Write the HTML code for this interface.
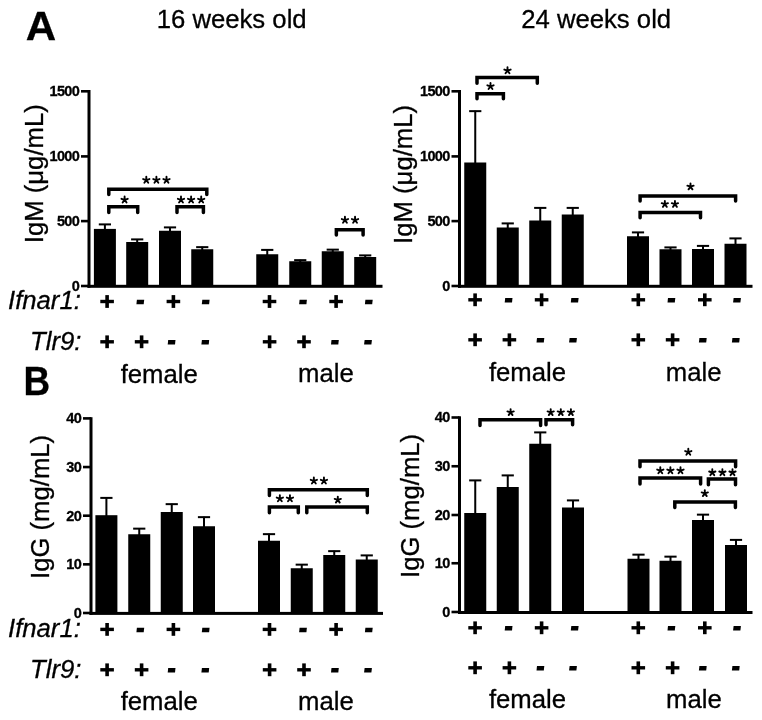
<!DOCTYPE html><html><head><meta charset="utf-8"><style>html,body{margin:0;padding:0;background:#fff;}svg{display:block;will-change:transform;font-family:"Liberation Sans",sans-serif;}svg rect,svg polygon{fill:#000;} svg path,svg line{stroke:#000;} svg text{fill:#000;stroke:#000;stroke-width:0.3px;}</style></head><body>
<svg width="762" height="720" viewBox="0 0 762 720">
<rect x="0" y="0" width="762" height="720" style="fill:#fff"/>
<text x="0" y="0" font-size="40.9" font-weight="bold" transform="translate(25.7 39.5) scale(1.03 1)">A</text>
<text x="0" y="0" font-size="41.5" font-weight="bold" transform="translate(23.6 394.8) scale(0.89 1)">B</text>
<text x="156.7" y="28.4" font-size="25.7" text-anchor="start" font-weight="normal" font-style="normal" >16 weeks old</text>
<text x="521.2" y="28.4" font-size="25.7" text-anchor="start" font-weight="normal" font-style="normal" >24 weeks old</text>
<rect x="87.5" y="90" width="3" height="197.7"/>
<rect x="87.5" y="284.8" width="295" height="3"/>
<rect x="81" y="90" width="8" height="2.6"/>
<text x="79.3" y="96.2" font-size="14.5" text-anchor="end" font-weight="bold" font-style="normal" letter-spacing="-0.6" stroke="#000" stroke-width="0.35">1500</text>
<rect x="81" y="155.1" width="8" height="2.6"/>
<text x="79.3" y="161.3" font-size="14.5" text-anchor="end" font-weight="bold" font-style="normal" letter-spacing="-0.6" stroke="#000" stroke-width="0.35">1000</text>
<rect x="81" y="219.8" width="8" height="2.6"/>
<text x="79.3" y="226" font-size="14.5" text-anchor="end" font-weight="bold" font-style="normal" letter-spacing="-0.6" stroke="#000" stroke-width="0.35">500</text>
<rect x="81" y="284.7" width="8" height="2.6"/>
<text x="79.3" y="290.9" font-size="14.5" text-anchor="end" font-weight="bold" font-style="normal" letter-spacing="-0.6" stroke="#000" stroke-width="0.35">0</text>
<rect x="93.9" y="228.9" width="22" height="57.4"/>
<rect x="103.9" y="224" width="2" height="5.9"/>
<rect x="98.8" y="223.4" width="12.2" height="2"/>
<rect x="126.2" y="242" width="22" height="44.3"/>
<rect x="136.2" y="239" width="2" height="4"/>
<rect x="131.1" y="238.4" width="12.2" height="2"/>
<rect x="159" y="230.75" width="22" height="55.55"/>
<rect x="169" y="227" width="2" height="4.75"/>
<rect x="163.9" y="226.4" width="12.2" height="2"/>
<rect x="191.25" y="249.25" width="22" height="37.05"/>
<rect x="201.25" y="246.75" width="2" height="3.5"/>
<rect x="196.15" y="246.15" width="12.2" height="2"/>
<rect x="256.25" y="254.25" width="22" height="32.05"/>
<rect x="266.25" y="249.5" width="2" height="5.75"/>
<rect x="261.15" y="248.9" width="12.2" height="2"/>
<rect x="289.25" y="261.25" width="22" height="25.05"/>
<rect x="299.25" y="259.75" width="2" height="2.5"/>
<rect x="294.15" y="259.15" width="12.2" height="2"/>
<rect x="321.75" y="251.25" width="22" height="35.05"/>
<rect x="331.75" y="249.25" width="2" height="3"/>
<rect x="326.65" y="248.65" width="12.2" height="2"/>
<rect x="354.2" y="257" width="22" height="29.3"/>
<rect x="364.2" y="255" width="2" height="3"/>
<rect x="359.1" y="254.4" width="12.2" height="2"/>
<path d="M108.8 194.6 V189.3 H206.8 V194.6" fill="none" stroke-width="3.5" stroke-linecap="round" stroke-linejoin="miter"/>
<path d="M146.3 180.1L146.3 176.8M146.3 180.1L149.44 179.08M146.3 180.1L148.24 182.77M146.3 180.1L144.36 182.77M146.3 180.1L143.16 179.08" fill="none" stroke-width="1.9" stroke-linecap="round"/>
<path d="M156.4 180.1L156.4 176.8M156.4 180.1L159.54 179.08M156.4 180.1L158.34 182.77M156.4 180.1L154.46 182.77M156.4 180.1L153.26 179.08" fill="none" stroke-width="1.9" stroke-linecap="round"/>
<path d="M166.5 180.1L166.5 176.8M166.5 180.1L169.64 179.08M166.5 180.1L168.44 182.77M166.5 180.1L164.56 182.77M166.5 180.1L163.36 179.08" fill="none" stroke-width="1.9" stroke-linecap="round"/>
<path d="M108.8 212.4 V206.75 H137.7 V212.4" fill="none" stroke-width="3.5" stroke-linecap="round" stroke-linejoin="miter"/>
<path d="M124.6 199.8L124.6 196.5M124.6 199.8L127.74 198.78M124.6 199.8L126.54 202.47M124.6 199.8L122.66 202.47M124.6 199.8L121.46 198.78" fill="none" stroke-width="1.9" stroke-linecap="round"/>
<path d="M177 212.4 V206.75 H203.4 V212.4" fill="none" stroke-width="3.5" stroke-linecap="round" stroke-linejoin="miter"/>
<path d="M181 199.8L181 196.5M181 199.8L184.14 198.78M181 199.8L182.94 202.47M181 199.8L179.06 202.47M181 199.8L177.86 198.78" fill="none" stroke-width="1.9" stroke-linecap="round"/>
<path d="M191.1 199.8L191.1 196.5M191.1 199.8L194.24 198.78M191.1 199.8L193.04 202.47M191.1 199.8L189.16 202.47M191.1 199.8L187.96 198.78" fill="none" stroke-width="1.9" stroke-linecap="round"/>
<path d="M201.2 199.8L201.2 196.5M201.2 199.8L204.34 198.78M201.2 199.8L203.14 202.47M201.2 199.8L199.26 202.47M201.2 199.8L198.06 198.78" fill="none" stroke-width="1.9" stroke-linecap="round"/>
<path d="M336.35 235 V229.75 H363.1 V235" fill="none" stroke-width="3.5" stroke-linecap="round" stroke-linejoin="miter"/>
<path d="M344.95 220.1L344.95 216.8M344.95 220.1L348.09 219.08M344.95 220.1L346.89 222.77M344.95 220.1L343.01 222.77M344.95 220.1L341.81 219.08" fill="none" stroke-width="1.9" stroke-linecap="round"/>
<path d="M355.05 220.1L355.05 216.8M355.05 220.1L358.19 219.08M355.05 220.1L356.99 222.77M355.05 220.1L353.11 222.77M355.05 220.1L351.91 219.08" fill="none" stroke-width="1.9" stroke-linecap="round"/>
<rect x="458" y="90" width="3" height="197.7"/>
<rect x="458" y="284.8" width="294.5" height="3"/>
<rect x="451.5" y="90" width="8" height="2.6"/>
<text x="449.8" y="96.2" font-size="14.5" text-anchor="end" font-weight="bold" font-style="normal" letter-spacing="-0.6" stroke="#000" stroke-width="0.35">1500</text>
<rect x="451.5" y="155.1" width="8" height="2.6"/>
<text x="449.8" y="161.3" font-size="14.5" text-anchor="end" font-weight="bold" font-style="normal" letter-spacing="-0.6" stroke="#000" stroke-width="0.35">1000</text>
<rect x="451.5" y="219.8" width="8" height="2.6"/>
<text x="449.8" y="226" font-size="14.5" text-anchor="end" font-weight="bold" font-style="normal" letter-spacing="-0.6" stroke="#000" stroke-width="0.35">500</text>
<rect x="451.5" y="284.7" width="8" height="2.6"/>
<text x="449.8" y="290.9" font-size="14.5" text-anchor="end" font-weight="bold" font-style="normal" letter-spacing="-0.6" stroke="#000" stroke-width="0.35">0</text>
<rect x="464.25" y="162.5" width="22" height="123.8"/>
<rect x="474.25" y="110.75" width="2" height="52.75"/>
<rect x="469.15" y="110.15" width="12.2" height="2"/>
<rect x="496.75" y="227.5" width="22" height="58.8"/>
<rect x="506.75" y="223" width="2" height="5.5"/>
<rect x="501.65" y="222.4" width="12.2" height="2"/>
<rect x="529.25" y="220.5" width="22" height="65.8"/>
<rect x="539.25" y="207.5" width="2" height="14"/>
<rect x="534.15" y="206.9" width="12.2" height="2"/>
<rect x="561.75" y="214.5" width="22" height="71.8"/>
<rect x="571.75" y="207.5" width="2" height="8"/>
<rect x="566.65" y="206.9" width="12.2" height="2"/>
<rect x="627" y="236.25" width="22" height="50.05"/>
<rect x="637" y="232" width="2" height="5.25"/>
<rect x="631.9" y="231.4" width="12.2" height="2"/>
<rect x="659.5" y="249.25" width="22" height="37.05"/>
<rect x="669.5" y="247" width="2" height="3.25"/>
<rect x="664.4" y="246.4" width="12.2" height="2"/>
<rect x="692" y="249" width="22" height="37.3"/>
<rect x="702" y="245.5" width="2" height="4.5"/>
<rect x="696.9" y="244.9" width="12.2" height="2"/>
<rect x="724.5" y="243.75" width="22" height="42.55"/>
<rect x="734.5" y="238" width="2" height="6.75"/>
<rect x="729.4" y="237.4" width="12.2" height="2"/>
<path d="M477 83.25 V77.5 H537.3 V83.25" fill="none" stroke-width="3.5" stroke-linecap="round" stroke-linejoin="miter"/>
<path d="M507.5 70.6L507.5 67.3M507.5 70.6L510.64 69.58M507.5 70.6L509.44 73.27M507.5 70.6L505.56 73.27M507.5 70.6L504.36 69.58" fill="none" stroke-width="1.9" stroke-linecap="round"/>
<path d="M477 98.75 V93.75 H503.4 V98.75" fill="none" stroke-width="3.5" stroke-linecap="round" stroke-linejoin="miter"/>
<path d="M490.5 86.35L490.5 83.05M490.5 86.35L493.64 85.33M490.5 86.35L492.44 89.02M490.5 86.35L488.56 89.02M490.5 86.35L487.36 85.33" fill="none" stroke-width="1.9" stroke-linecap="round"/>
<path d="M640.1 201.1 V196 H735.6 V201.1" fill="none" stroke-width="3.5" stroke-linecap="round" stroke-linejoin="miter"/>
<path d="M690.5 186.7L690.5 183.4M690.5 186.7L693.64 185.68M690.5 186.7L692.44 189.37M690.5 186.7L688.56 189.37M690.5 186.7L687.36 185.68" fill="none" stroke-width="1.9" stroke-linecap="round"/>
<path d="M640.1 217.7 V212.5 H700.5 V217.7" fill="none" stroke-width="3.5" stroke-linecap="round" stroke-linejoin="miter"/>
<path d="M664.85 204.2L664.85 200.9M664.85 204.2L667.99 203.18M664.85 204.2L666.79 206.87M664.85 204.2L662.91 206.87M664.85 204.2L661.71 203.18" fill="none" stroke-width="1.9" stroke-linecap="round"/>
<path d="M674.95 204.2L674.95 200.9M674.95 204.2L678.09 203.18M674.95 204.2L676.89 206.87M674.95 204.2L673.01 206.87M674.95 204.2L671.81 203.18" fill="none" stroke-width="1.9" stroke-linecap="round"/>
<rect x="89.5" y="417.2" width="3" height="197.6"/>
<rect x="89.5" y="611.9" width="293.5" height="3"/>
<rect x="83" y="417.1" width="8" height="2.6"/>
<text x="81.3" y="423.3" font-size="14.5" text-anchor="end" font-weight="bold" font-style="normal" letter-spacing="-0.6" stroke="#000" stroke-width="0.35">40</text>
<rect x="83" y="465.75" width="8" height="2.6"/>
<text x="81.3" y="471.95" font-size="14.5" text-anchor="end" font-weight="bold" font-style="normal" letter-spacing="-0.6" stroke="#000" stroke-width="0.35">30</text>
<rect x="83" y="514.4" width="8" height="2.6"/>
<text x="81.3" y="520.6" font-size="14.5" text-anchor="end" font-weight="bold" font-style="normal" letter-spacing="-0.6" stroke="#000" stroke-width="0.35">20</text>
<rect x="83" y="563.05" width="8" height="2.6"/>
<text x="81.3" y="569.25" font-size="14.5" text-anchor="end" font-weight="bold" font-style="normal" letter-spacing="-0.6" stroke="#000" stroke-width="0.35">10</text>
<rect x="83" y="611.7" width="8" height="2.6"/>
<text x="81.3" y="617.9" font-size="14.5" text-anchor="end" font-weight="bold" font-style="normal" letter-spacing="-0.6" stroke="#000" stroke-width="0.35">0</text>
<rect x="95.4" y="515.2" width="22" height="98.2"/>
<rect x="105.4" y="497.5" width="2" height="18.7"/>
<rect x="100.3" y="496.9" width="12.2" height="2"/>
<rect x="128.25" y="534.25" width="22" height="79.15"/>
<rect x="138.25" y="528.25" width="2" height="7"/>
<rect x="133.15" y="527.65" width="12.2" height="2"/>
<rect x="160.75" y="512" width="22" height="101.4"/>
<rect x="170.75" y="503.75" width="2" height="9.25"/>
<rect x="165.65" y="503.15" width="12.2" height="2"/>
<rect x="193" y="526.25" width="22" height="87.15"/>
<rect x="203" y="516.75" width="2" height="10.5"/>
<rect x="197.9" y="516.15" width="12.2" height="2"/>
<rect x="258" y="540.75" width="22" height="72.65"/>
<rect x="268" y="533.75" width="2" height="8"/>
<rect x="262.9" y="533.15" width="12.2" height="2"/>
<rect x="290.75" y="568.25" width="22" height="45.15"/>
<rect x="300.75" y="564.25" width="2" height="5"/>
<rect x="295.65" y="563.65" width="12.2" height="2"/>
<rect x="323.25" y="555" width="22" height="58.4"/>
<rect x="333.25" y="550.75" width="2" height="5.25"/>
<rect x="328.15" y="550.15" width="12.2" height="2"/>
<rect x="355.75" y="559.5" width="22" height="53.9"/>
<rect x="365.75" y="555" width="2" height="5.5"/>
<rect x="360.65" y="554.4" width="12.2" height="2"/>
<path d="M269.4 495.5 V489.8 H367.3 V495.5" fill="none" stroke-width="3.5" stroke-linecap="round" stroke-linejoin="miter"/>
<path d="M313.85 480.8L313.85 477.5M313.85 480.8L316.99 479.78M313.85 480.8L315.79 483.47M313.85 480.8L311.91 483.47M313.85 480.8L310.71 479.78" fill="none" stroke-width="1.9" stroke-linecap="round"/>
<path d="M323.95 480.8L323.95 477.5M323.95 480.8L327.09 479.78M323.95 480.8L325.89 483.47M323.95 480.8L322.01 483.47M323.95 480.8L320.81 479.78" fill="none" stroke-width="1.9" stroke-linecap="round"/>
<path d="M269.4 512.8 V507 H298.3 V512.8" fill="none" stroke-width="3.5" stroke-linecap="round" stroke-linejoin="miter"/>
<path d="M279.85 498.6L279.85 495.3M279.85 498.6L282.99 497.58M279.85 498.6L281.79 501.27M279.85 498.6L277.91 501.27M279.85 498.6L276.71 497.58" fill="none" stroke-width="1.9" stroke-linecap="round"/>
<path d="M289.95 498.6L289.95 495.3M289.95 498.6L293.09 497.58M289.95 498.6L291.89 501.27M289.95 498.6L288.01 501.27M289.95 498.6L286.81 497.58" fill="none" stroke-width="1.9" stroke-linecap="round"/>
<path d="M306.8 512.8 V507 H367.3 V512.8" fill="none" stroke-width="3.5" stroke-linecap="round" stroke-linejoin="miter"/>
<path d="M337.8 499.9L337.8 496.6M337.8 499.9L340.94 498.88M337.8 499.9L339.74 502.57M337.8 499.9L335.86 502.57M337.8 499.9L334.66 498.88" fill="none" stroke-width="1.9" stroke-linecap="round"/>
<rect x="458" y="416.3" width="3" height="197.6"/>
<rect x="458" y="611" width="294.5" height="3"/>
<rect x="451.5" y="416.2" width="8" height="2.6"/>
<text x="449.8" y="422.4" font-size="14.5" text-anchor="end" font-weight="bold" font-style="normal" letter-spacing="-0.6" stroke="#000" stroke-width="0.35">40</text>
<rect x="451.5" y="464.95" width="8" height="2.6"/>
<text x="449.8" y="471.15" font-size="14.5" text-anchor="end" font-weight="bold" font-style="normal" letter-spacing="-0.6" stroke="#000" stroke-width="0.35">30</text>
<rect x="451.5" y="513.7" width="8" height="2.6"/>
<text x="449.8" y="519.9" font-size="14.5" text-anchor="end" font-weight="bold" font-style="normal" letter-spacing="-0.6" stroke="#000" stroke-width="0.35">20</text>
<rect x="451.5" y="561.95" width="8" height="2.6"/>
<text x="449.8" y="568.15" font-size="14.5" text-anchor="end" font-weight="bold" font-style="normal" letter-spacing="-0.6" stroke="#000" stroke-width="0.35">10</text>
<rect x="451.5" y="610.7" width="8" height="2.6"/>
<text x="449.8" y="616.9" font-size="14.5" text-anchor="end" font-weight="bold" font-style="normal" letter-spacing="-0.6" stroke="#000" stroke-width="0.35">0</text>
<rect x="464.25" y="513" width="22" height="99.5"/>
<rect x="474.25" y="480" width="2" height="34"/>
<rect x="469.15" y="479.4" width="12.2" height="2"/>
<rect x="496.75" y="487" width="22" height="125.5"/>
<rect x="506.75" y="475" width="2" height="13"/>
<rect x="501.65" y="474.4" width="12.2" height="2"/>
<rect x="529.25" y="443.75" width="22" height="168.75"/>
<rect x="539.25" y="432" width="2" height="12.75"/>
<rect x="534.15" y="431.4" width="12.2" height="2"/>
<rect x="562" y="507.5" width="22" height="105"/>
<rect x="572" y="500" width="2" height="8.5"/>
<rect x="566.9" y="499.4" width="12.2" height="2"/>
<rect x="627.5" y="558.75" width="22" height="53.75"/>
<rect x="637.5" y="554.25" width="2" height="5.5"/>
<rect x="632.4" y="553.65" width="12.2" height="2"/>
<rect x="659.5" y="560.75" width="22" height="51.75"/>
<rect x="669.5" y="556.25" width="2" height="5.5"/>
<rect x="664.4" y="555.65" width="12.2" height="2"/>
<rect x="692" y="520" width="22" height="92.5"/>
<rect x="702" y="514.25" width="2" height="6.75"/>
<rect x="696.9" y="513.65" width="12.2" height="2"/>
<rect x="725" y="545" width="22" height="67.5"/>
<rect x="735" y="539.5" width="2" height="6.5"/>
<rect x="729.9" y="538.9" width="12.2" height="2"/>
<path d="M480 425.5 V419.8 H540.6 V425.5" fill="none" stroke-width="3.5" stroke-linecap="round" stroke-linejoin="miter"/>
<path d="M510.6 412.4L510.6 409.1M510.6 412.4L513.74 411.38M510.6 412.4L512.54 415.07M510.6 412.4L508.66 415.07M510.6 412.4L507.46 411.38" fill="none" stroke-width="1.9" stroke-linecap="round"/>
<path d="M546 424.8 V419.8 H572.6 V424.8" fill="none" stroke-width="3.5" stroke-linecap="round" stroke-linejoin="miter"/>
<path d="M550.7 412.4L550.7 409.1M550.7 412.4L553.84 411.38M550.7 412.4L552.64 415.07M550.7 412.4L548.76 415.07M550.7 412.4L547.56 411.38" fill="none" stroke-width="1.9" stroke-linecap="round"/>
<path d="M560.8 412.4L560.8 409.1M560.8 412.4L563.94 411.38M560.8 412.4L562.74 415.07M560.8 412.4L558.86 415.07M560.8 412.4L557.66 411.38" fill="none" stroke-width="1.9" stroke-linecap="round"/>
<path d="M570.9 412.4L570.9 409.1M570.9 412.4L574.04 411.38M570.9 412.4L572.84 415.07M570.9 412.4L568.96 415.07M570.9 412.4L567.76 411.38" fill="none" stroke-width="1.9" stroke-linecap="round"/>
<path d="M640 466.75 V461.1 H735.6 V466.75" fill="none" stroke-width="3.5" stroke-linecap="round" stroke-linejoin="miter"/>
<path d="M688.3 452.1L688.3 448.8M688.3 452.1L691.44 451.08M688.3 452.1L690.24 454.77M688.3 452.1L686.36 454.77M688.3 452.1L685.16 451.08" fill="none" stroke-width="1.9" stroke-linecap="round"/>
<path d="M640 484 V477.9 H700.6 V484" fill="none" stroke-width="3.5" stroke-linecap="round" stroke-linejoin="miter"/>
<path d="M660.3 470.6L660.3 467.3M660.3 470.6L663.44 469.58M660.3 470.6L662.24 473.27M660.3 470.6L658.36 473.27M660.3 470.6L657.16 469.58" fill="none" stroke-width="1.9" stroke-linecap="round"/>
<path d="M670.4 470.6L670.4 467.3M670.4 470.6L673.54 469.58M670.4 470.6L672.34 473.27M670.4 470.6L668.46 473.27M670.4 470.6L667.26 469.58" fill="none" stroke-width="1.9" stroke-linecap="round"/>
<path d="M680.5 470.6L680.5 467.3M680.5 470.6L683.64 469.58M680.5 470.6L682.44 473.27M680.5 470.6L678.56 473.27M680.5 470.6L677.36 469.58" fill="none" stroke-width="1.9" stroke-linecap="round"/>
<path d="M708.4 484.7 V479 H735.5 V484.7" fill="none" stroke-width="3.5" stroke-linecap="round" stroke-linejoin="miter"/>
<path d="M712.3 472.5L712.3 469.2M712.3 472.5L715.44 471.48M712.3 472.5L714.24 475.17M712.3 472.5L710.36 475.17M712.3 472.5L709.16 471.48" fill="none" stroke-width="1.9" stroke-linecap="round"/>
<path d="M722.4 472.5L722.4 469.2M722.4 472.5L725.54 471.48M722.4 472.5L724.34 475.17M722.4 472.5L720.46 475.17M722.4 472.5L719.26 471.48" fill="none" stroke-width="1.9" stroke-linecap="round"/>
<path d="M732.5 472.5L732.5 469.2M732.5 472.5L735.64 471.48M732.5 472.5L734.44 475.17M732.5 472.5L730.56 475.17M732.5 472.5L729.36 471.48" fill="none" stroke-width="1.9" stroke-linecap="round"/>
<path d="M674.8 507.5 V501.9 H735.4 V507.5" fill="none" stroke-width="3.5" stroke-linecap="round" stroke-linejoin="miter"/>
<path d="M704.8 493.4L704.8 490.1M704.8 493.4L707.94 492.38M704.8 493.4L706.74 496.07M704.8 493.4L702.86 496.07M704.8 493.4L701.66 492.38" fill="none" stroke-width="1.9" stroke-linecap="round"/>
<rect x="100.3" y="299.8" width="13.6" height="3.4"/>
<rect x="105.3" y="295.1" width="3.6" height="12.8"/>
<polygon points="136.9,299.75 144.2,299.75 143.7,304.25 136.4,304.25"/>
<rect x="166.6" y="299.8" width="13.6" height="3.4"/>
<rect x="171.6" y="295.1" width="3.6" height="12.8"/>
<polygon points="202.3,299.75 209.6,299.75 209.1,304.25 201.8,304.25"/>
<rect x="262.7" y="299.8" width="13.6" height="3.4"/>
<rect x="267.7" y="295.1" width="3.6" height="12.8"/>
<polygon points="299.6,299.75 306.9,299.75 306.4,304.25 299.1,304.25"/>
<rect x="329.3" y="299.8" width="13.6" height="3.4"/>
<rect x="334.3" y="295.1" width="3.6" height="12.8"/>
<polygon points="365.4,299.75 372.7,299.75 372.2,304.25 364.9,304.25"/>
<rect x="100.3" y="340.1" width="13.6" height="3.4"/>
<rect x="105.3" y="335.4" width="3.6" height="12.8"/>
<rect x="134.8" y="340.1" width="13.6" height="3.4"/>
<rect x="139.8" y="335.4" width="3.6" height="12.8"/>
<polygon points="168.2,340.05 175.5,340.05 175,344.55 167.7,344.55"/>
<polygon points="201.9,340.05 209.2,340.05 208.7,344.55 201.4,344.55"/>
<rect x="262.8" y="340.1" width="13.6" height="3.4"/>
<rect x="267.8" y="335.4" width="3.6" height="12.8"/>
<rect x="297.2" y="340.1" width="13.6" height="3.4"/>
<rect x="302.2" y="335.4" width="3.6" height="12.8"/>
<polygon points="331.5,340.05 338.8,340.05 338.3,344.55 331,344.55"/>
<polygon points="364.6,340.05 371.9,340.05 371.4,344.55 364.1,344.55"/>
<rect x="468.3" y="298.1" width="13.6" height="3.4"/>
<rect x="473.3" y="293.4" width="3.6" height="12.8"/>
<polygon points="505.2,298.05 512.5,298.05 512,302.55 504.7,302.55"/>
<rect x="534.8" y="298.1" width="13.6" height="3.4"/>
<rect x="539.8" y="293.4" width="3.6" height="12.8"/>
<polygon points="571.3,298.05 578.6,298.05 578.1,302.55 570.8,302.55"/>
<rect x="631.5" y="298.1" width="13.6" height="3.4"/>
<rect x="636.5" y="293.4" width="3.6" height="12.8"/>
<polygon points="668,298.05 675.3,298.05 674.8,302.55 667.5,302.55"/>
<rect x="698" y="298.1" width="13.6" height="3.4"/>
<rect x="703" y="293.4" width="3.6" height="12.8"/>
<polygon points="733.6,298.05 740.9,298.05 740.4,302.55 733.1,302.55"/>
<rect x="468.3" y="338.1" width="13.6" height="3.4"/>
<rect x="473.3" y="333.4" width="3.6" height="12.8"/>
<rect x="502.6" y="338.1" width="13.6" height="3.4"/>
<rect x="507.6" y="333.4" width="3.6" height="12.8"/>
<polygon points="537,338.05 544.3,338.05 543.8,342.55 536.5,342.55"/>
<polygon points="569.6,338.05 576.9,338.05 576.4,342.55 569.1,342.55"/>
<rect x="631.5" y="338.1" width="13.6" height="3.4"/>
<rect x="636.5" y="333.4" width="3.6" height="12.8"/>
<rect x="665.8" y="338.1" width="13.6" height="3.4"/>
<rect x="670.8" y="333.4" width="3.6" height="12.8"/>
<polygon points="699.4,338.05 706.7,338.05 706.2,342.55 698.9,342.55"/>
<polygon points="732.4,338.05 739.7,338.05 739.2,342.55 731.9,342.55"/>
<rect x="100.3" y="627.7" width="13.6" height="3.4"/>
<rect x="105.3" y="623" width="3.6" height="12.8"/>
<polygon points="136.9,627.65 144.2,627.65 143.7,632.15 136.4,632.15"/>
<rect x="166.6" y="627.7" width="13.6" height="3.4"/>
<rect x="171.6" y="623" width="3.6" height="12.8"/>
<polygon points="202.3,627.65 209.6,627.65 209.1,632.15 201.8,632.15"/>
<rect x="262.7" y="627.7" width="13.6" height="3.4"/>
<rect x="267.7" y="623" width="3.6" height="12.8"/>
<polygon points="299.6,627.65 306.9,627.65 306.4,632.15 299.1,632.15"/>
<rect x="329.3" y="627.7" width="13.6" height="3.4"/>
<rect x="334.3" y="623" width="3.6" height="12.8"/>
<polygon points="365.4,627.65 372.7,627.65 372.2,632.15 364.9,632.15"/>
<rect x="100.3" y="668.1" width="13.6" height="3.4"/>
<rect x="105.3" y="663.4" width="3.6" height="12.8"/>
<rect x="134.8" y="668.1" width="13.6" height="3.4"/>
<rect x="139.8" y="663.4" width="3.6" height="12.8"/>
<polygon points="168.2,668.05 175.5,668.05 175,672.55 167.7,672.55"/>
<polygon points="201.9,668.05 209.2,668.05 208.7,672.55 201.4,672.55"/>
<rect x="262.8" y="668.1" width="13.6" height="3.4"/>
<rect x="267.8" y="663.4" width="3.6" height="12.8"/>
<rect x="297.2" y="668.1" width="13.6" height="3.4"/>
<rect x="302.2" y="663.4" width="3.6" height="12.8"/>
<polygon points="331.5,668.05 338.8,668.05 338.3,672.55 331,672.55"/>
<polygon points="364.6,668.05 371.9,668.05 371.4,672.55 364.1,672.55"/>
<rect x="468.3" y="626.1" width="13.6" height="3.4"/>
<rect x="473.3" y="621.4" width="3.6" height="12.8"/>
<polygon points="505.2,626.05 512.5,626.05 512,630.55 504.7,630.55"/>
<rect x="534.8" y="626.1" width="13.6" height="3.4"/>
<rect x="539.8" y="621.4" width="3.6" height="12.8"/>
<polygon points="571.3,626.05 578.6,626.05 578.1,630.55 570.8,630.55"/>
<rect x="631.5" y="626.1" width="13.6" height="3.4"/>
<rect x="636.5" y="621.4" width="3.6" height="12.8"/>
<polygon points="668,626.05 675.3,626.05 674.8,630.55 667.5,630.55"/>
<rect x="698" y="626.1" width="13.6" height="3.4"/>
<rect x="703" y="621.4" width="3.6" height="12.8"/>
<polygon points="733.6,626.05 740.9,626.05 740.4,630.55 733.1,630.55"/>
<rect x="468.3" y="666.1" width="13.6" height="3.4"/>
<rect x="473.3" y="661.4" width="3.6" height="12.8"/>
<rect x="502.6" y="666.1" width="13.6" height="3.4"/>
<rect x="507.6" y="661.4" width="3.6" height="12.8"/>
<polygon points="537,666.05 544.3,666.05 543.8,670.55 536.5,670.55"/>
<polygon points="569.6,666.05 576.9,666.05 576.4,670.55 569.1,670.55"/>
<rect x="631.5" y="666.1" width="13.6" height="3.4"/>
<rect x="636.5" y="661.4" width="3.6" height="12.8"/>
<rect x="665.8" y="666.1" width="13.6" height="3.4"/>
<rect x="670.8" y="661.4" width="3.6" height="12.8"/>
<polygon points="699.4,666.05 706.7,666.05 706.2,670.55 698.9,670.55"/>
<polygon points="732.4,666.05 739.7,666.05 739.2,670.55 731.9,670.55"/>
<text x="8" y="309.25" font-size="25.7" text-anchor="start" font-weight="normal" font-style="italic" >Ifnar1:</text>
<text x="30.1" y="350" font-size="25.7" text-anchor="start" font-weight="normal" font-style="italic" >Tlr9:</text>
<text x="8" y="637.2" font-size="25.7" text-anchor="start" font-weight="normal" font-style="italic" >Ifnar1:</text>
<text x="30.1" y="678" font-size="25.7" text-anchor="start" font-weight="normal" font-style="italic" >Tlr9:</text>
<text x="159.2" y="382.5" font-size="25.7" text-anchor="middle" font-weight="normal" font-style="normal" >female</text>
<text x="325.9" y="382.3" font-size="25.7" text-anchor="middle" font-weight="normal" font-style="normal" >male</text>
<text x="527.5" y="380.5" font-size="25.7" text-anchor="middle" font-weight="normal" font-style="normal" >female</text>
<text x="693.7" y="380.5" font-size="25.7" text-anchor="middle" font-weight="normal" font-style="normal" >male</text>
<text x="159.2" y="709.9" font-size="25.7" text-anchor="middle" font-weight="normal" font-style="normal" >female</text>
<text x="325.9" y="709.9" font-size="25.7" text-anchor="middle" font-weight="normal" font-style="normal" >male</text>
<text x="527.5" y="708.3" font-size="25.7" text-anchor="middle" font-weight="normal" font-style="normal" >female</text>
<text x="693.9" y="707.5" font-size="25.7" text-anchor="middle" font-weight="normal" font-style="normal" >male</text>
<text x="0" y="0" font-size="25.7" transform="translate(42.8 243.2) rotate(-90)">IgM (&#956;g/mL)</text>
<text x="0" y="0" font-size="25.7" transform="translate(412.2 243.9) rotate(-90)">IgM (&#956;g/mL)</text>
<text x="0" y="0" font-size="25.7" transform="translate(48.5 579) rotate(-90)">IgG (mg/mL)</text>
<text x="0" y="0" font-size="25.7" transform="translate(419 578) rotate(-90)">IgG (mg/mL)</text>
</svg></body></html>
